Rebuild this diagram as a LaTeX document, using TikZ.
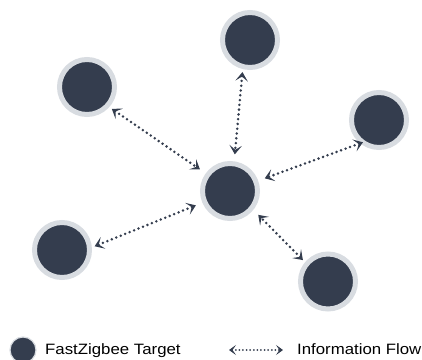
\documentclass[tikz,border=0pt]{standalone}
\usepackage{fontspec}
\setmainfont{Liberation Sans}
\newfontfamily\legendfont[FakeStretch=1.12]{Liberation Sans}
\usetikzlibrary{arrows.meta}
\definecolor{navy}{HTML}{343D4E}
\definecolor{ring}{HTML}{D8DCE1}

\begin{document}
\begin{tikzpicture}[x=1bp,y=-1bp,
  target/.style={circle,fill=navy,draw=ring,line width=5bp,minimum size=55bp,inner sep=0pt},
  flow/.style={navy,line width=2.8bp,line cap=round,dash pattern=on 0pt off 4.8bp,
    >={Stealth[length=9bp,width=12.5bp,inset=4.5bp]},<->,shorten <=3bp,shorten >=7bp},
  lbl/.style={anchor=base west,inner sep=0pt,font=\legendfont\fontsize{15bp}{18bp}\selectfont}]
  \useasboundingbox (0,0) rectangle (422,360);

  % targets
  \node[target] (hub) at (230,191) {};
  \node[target] (top) at (250,40) {};
  \node[target] (upleft) at (87,87) {};
  \node[target] (right) at (379,120) {};
  \node[target] (lowleft) at (62,250) {};
  \node[target] (lowright) at (328,281.5) {};

  % information flow
  \draw[flow] (upleft.318) -- (hub.144);
  \draw[flow] (top.256) -- (hub.82);
  \draw[flow,shorten <=-3bp] (right.231) -- (hub.20);
  \draw[flow] (lowleft.5) -- (hub.203);
  \draw[flow] (lowright.140) -- (hub.321);

  % legend
  \node[circle,fill=navy,draw=ring,line width=1.2bp,minimum size=26bp,inner sep=0pt] (key) at (23,350) {};
  \node[lbl] (keytext) at (45,354.3) {FastZigbee Target};
  \coordinate (fa) at (229,350);
  \coordinate (fb) at (283,350);
  \draw[flow,line width=2bp,dash pattern=on 0pt off 3.6bp,
    >={Stealth[length=7bp,width=10bp,inset=3.5bp]},shorten <=0pt,shorten >=0pt] (fa) -- (fb);
  \node[lbl] (flowtext) at (297,354.3) {Information Flow};
\end{tikzpicture}
\end{document}
